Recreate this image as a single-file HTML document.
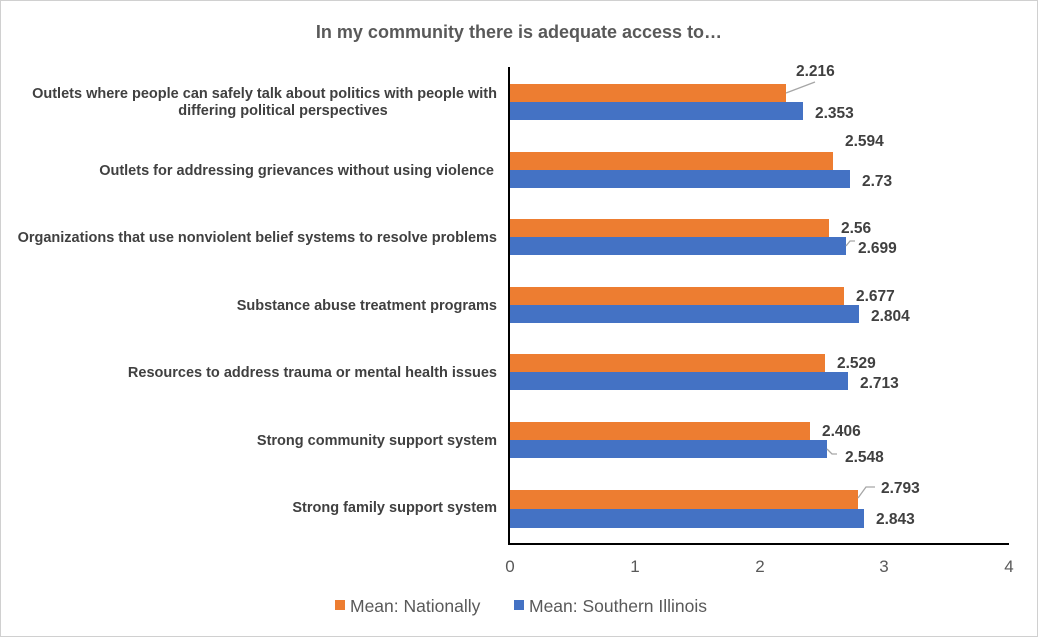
<!DOCTYPE html>
<html><head><meta charset="utf-8"><style>
body{margin:0;background:#fff}
svg{display:block;font-family:"Liberation Sans",Arial,sans-serif}
</style></head><body>
<svg width="1038" height="637" viewBox="0 0 1038 637">
<rect x="0.5" y="0.5" width="1037" height="636" fill="#fff" stroke="#d0d0d0"/>
<text x="519" y="38" text-anchor="middle" font-size="18" font-weight="bold" fill="#595959">In my community there is adequate access to…</text>
<g font-size="14.5" font-weight="bold" fill="#404040" text-anchor="end" textLength="0">
<text x="497" y="98">Outlets where people can safely talk about politics with people with</text>
<text x="283" y="115" text-anchor="middle">differing political perspectives</text>
<text x="494" y="175">Outlets for addressing grievances without using violence</text>
<text x="497" y="242">Organizations that use nonviolent belief systems to resolve problems</text>
<text x="497" y="310">Substance abuse treatment programs</text>
<text x="497" y="377">Resources to address trauma or mental health issues</text>
<text x="497" y="445">Strong community support system</text>
<text x="497" y="512">Strong family support system</text>
</g>
<g>
<rect x="509" y="84" width="277" height="18" fill="#ED7D31"/><rect x="509" y="102" width="294" height="18" fill="#4472C4"/>
<rect x="509" y="152" width="324" height="18" fill="#ED7D31"/><rect x="509" y="170" width="341" height="18" fill="#4472C4"/>
<rect x="509" y="219" width="320" height="18" fill="#ED7D31"/><rect x="509" y="237" width="337" height="18" fill="#4472C4"/>
<rect x="509" y="287" width="335" height="18" fill="#ED7D31"/><rect x="509" y="305" width="350" height="18" fill="#4472C4"/>
<rect x="509" y="354" width="316" height="18" fill="#ED7D31"/><rect x="509" y="372" width="339" height="18" fill="#4472C4"/>
<rect x="509" y="422" width="301" height="18" fill="#ED7D31"/><rect x="509" y="440" width="318" height="18" fill="#4472C4"/>
<rect x="509" y="490" width="349" height="19" fill="#ED7D31"/><rect x="509" y="509" width="355" height="19" fill="#4472C4"/>
</g>
<g stroke="#a6a6a6" stroke-width="1.3" fill="none">
<line x1="786" y1="93" x2="815" y2="82"/>
<polyline points="846,246 850,241 855,241"/>
<polyline points="827,449 832,454 837,454"/>
<polyline points="858,498 866,487 875,487"/>
</g>
<g font-size="15.5" font-weight="bold" fill="#404040">
<text x="796" y="76">2.216</text><text x="815" y="118">2.353</text>
<text x="845" y="146">2.594</text><text x="862" y="186">2.73</text>
<text x="841" y="233">2.56</text><text x="858" y="253">2.699</text>
<text x="856" y="301">2.677</text><text x="871" y="321">2.804</text>
<text x="837" y="368">2.529</text><text x="860" y="388">2.713</text>
<text x="822" y="436">2.406</text><text x="845" y="462">2.548</text>
<text x="881" y="493">2.793</text><text x="876" y="524">2.843</text>
</g>
<line x1="509" y1="67" x2="509" y2="545" stroke="#000" stroke-width="2"/>
<line x1="508" y1="544" x2="1009" y2="544" stroke="#000" stroke-width="2"/>
<g font-size="17" fill="#595959" text-anchor="middle">
<text x="510" y="572">0</text><text x="635" y="572">1</text><text x="760" y="572">2</text><text x="884" y="572">3</text><text x="1009" y="572">4</text>
</g>
<rect x="335" y="600" width="10" height="10" fill="#ED7D31"/>
<text x="350" y="612" font-size="17.5" fill="#595959">Mean: Nationally</text>
<rect x="514" y="600" width="10" height="10" fill="#4472C4"/>
<text x="529" y="612" font-size="17.5" fill="#595959">Mean: Southern Illinois</text>
</svg>
</body></html>
